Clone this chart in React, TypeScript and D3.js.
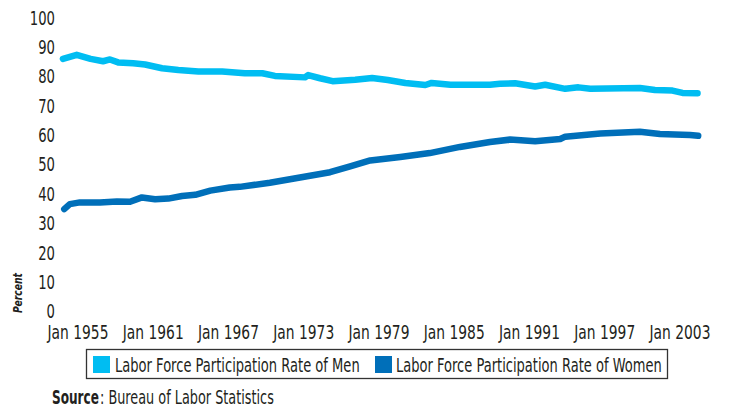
import React, { useLayoutEffect, useRef, useState } from "react";
import * as d3 from "d3";

const menYears = [1953.8, 1954.9, 1956.0, 1957.0, 1957.55, 1958.2, 1959.4, 1960.35, 1961.7, 1963.0, 1964.6, 1966.5, 1968.3, 1969.7, 1970.7, 1973.1, 1973.35, 1974.3, 1975.3, 1977.1, 1978.45, 1979.7, 1981.1, 1982.7, 1983.2, 1984.7, 1987.85, 1988.65, 1989.85, 1991.45, 1992.25, 1993.85, 1994.9, 1995.85, 1999.8, 2001.0, 2002.4, 2003.2, 2004.4];
const menValues = [85.9, 87.3, 85.9, 85.1, 85.7, 84.7, 84.4, 84.0, 82.7, 82.1, 81.6, 81.6, 81.0, 81.0, 80.1, 79.6, 80.4, 79.3, 78.3, 78.8, 79.4, 78.7, 77.7, 77.0, 77.7, 77.1, 77.1, 77.4, 77.6, 76.5, 77.1, 75.7, 76.2, 75.7, 76.0, 75.3, 75.1, 74.3, 74.2];

const womenYears = [1953.9, 1954.35, 1955.15, 1956.75, 1958.1, 1959.15, 1960.1, 1961.15, 1962.2, 1963.3, 1964.35, 1965.55, 1967.1, 1967.9, 1970.3, 1972.7, 1975.1, 1976.7, 1978.3, 1980.7, 1983.05, 1985.45, 1987.85, 1989.45, 1991.45, 1993.45, 1993.85, 1996.65, 1999.8, 2001.4, 2003.8, 2004.45];
const womenValues = [34.7, 36.4, 37.0, 37.0, 37.3, 37.2, 38.7, 38.1, 38.3, 39.2, 39.6, 41.0, 42.1, 42.3, 43.7, 45.5, 47.3, 49.3, 51.3, 52.5, 53.8, 55.9, 57.6, 58.4, 57.8, 58.6, 59.4, 60.5, 61.1, 60.3, 60.0, 59.7];

const tickYears = [1955, 1961, 1967, 1973, 1979, 1985, 1991, 1997, 2003];
const yTicks = [0, 10, 20, 30, 40, 50, 60, 70, 80, 90, 100];
const seriesNames = ["Labor Force Participation Rate of Men", "Labor Force Participation Rate of Women"];
const seriesColors = ["#00bdf2", "#006fb9"];

const FONT = "'DejaVu Sans', sans-serif";
const TXT = "#231f20";

type FitProps = {
  x: number;
  y: number;
  width: number;
  anchor?: "start" | "middle" | "end";
  rotate?: number;
  fontSize?: number;
  fontWeight?: string;
  fontStyle?: string;
  dy?: string;
  children: React.ReactNode;
};

function FitText({ x, y, width, anchor = "start", rotate = 0, fontSize = 20, fontWeight, fontStyle, dy, children }: FitProps) {
  const ref = useRef<SVGTextElement>(null);
  const [s, setS] = useState(1);
  useLayoutEffect(() => {
    if (ref.current) {
      const w = ref.current.getComputedTextLength();
      if (w > 0) setS(width / w);
    }
  }, [width, children]);
  return (
    <g transform={`translate(${x},${y}) rotate(${rotate}) scale(${s},1)`}>
      <text
        ref={ref}
        textAnchor={anchor}
        fontSize={fontSize}
        fontWeight={fontWeight}
        fontStyle={fontStyle}
        dy={dy}
        fill={TXT}
      >
        {children}
      </text>
    </g>
  );
}

export default function App() {
  const x = d3.scaleLinear().domain([1955, 2003]).range([78, 680]);
  const y = d3.scaleLinear().domain([0, 100]).range([311, 17.5]);
  const line = d3
    .line<[number, number]>()
    .x((d) => x(d[0]))
    .y((d) => y(d[1]))
    .curve(d3.curveLinear);
  const menData = menYears.map((yr, i) => [yr, menValues[i]] as [number, number]);
  const womenData = womenYears.map((yr, i) => [yr, womenValues[i]] as [number, number]);

  return (
    <svg
      width={730}
      height={408}
      style={{ position: "absolute", left: 0, top: 0, background: "#fff" }}
      fontFamily={FONT}
    >
      {yTicks.map((t) => (
        <FitText key={t} x={55} y={y(t)} dy="0.36em" anchor="end" width={String(t).length * 8.4}>
          {String(t)}
        </FitText>
      ))}
      <FitText x={22} y={293} rotate={-90} anchor="middle" fontSize={13} fontWeight="bold" fontStyle="italic" width={40}>
        Percent
      </FitText>
      {tickYears.map((t) => (
        <FitText key={t} x={x(t)} y={339} anchor="middle" width={61}>
          {`Jan ${t}`}
        </FitText>
      ))}
      <path d={line(menData) || ""} fill="none" stroke={seriesColors[0]} strokeWidth={6.5} strokeLinejoin="round" strokeLinecap="round" />
      <path d={line(womenData) || ""} fill="none" stroke={seriesColors[1]} strokeWidth={6.5} strokeLinejoin="round" strokeLinecap="round" />

      <rect x={86.5} y={349.5} width={581} height={29} fill="#fff" stroke="#333" strokeWidth={1.3} />
      <rect x={93} y={356} width={17} height={17} fill={seriesColors[0]} />
      <FitText x={115} y={372} width={245}>{seriesNames[0]}</FitText>
      <rect x={375} y={356} width={17} height={17} fill={seriesColors[1]} />
      <FitText x={396} y={372} width={266}>{seriesNames[1]}</FitText>

      <FitText x={52} y={404} width={47} fontWeight="bold">Source</FitText>
      <FitText x={100} y={404} width={174}>: Bureau of Labor Statistics</FitText>
    </svg>
  );
}
